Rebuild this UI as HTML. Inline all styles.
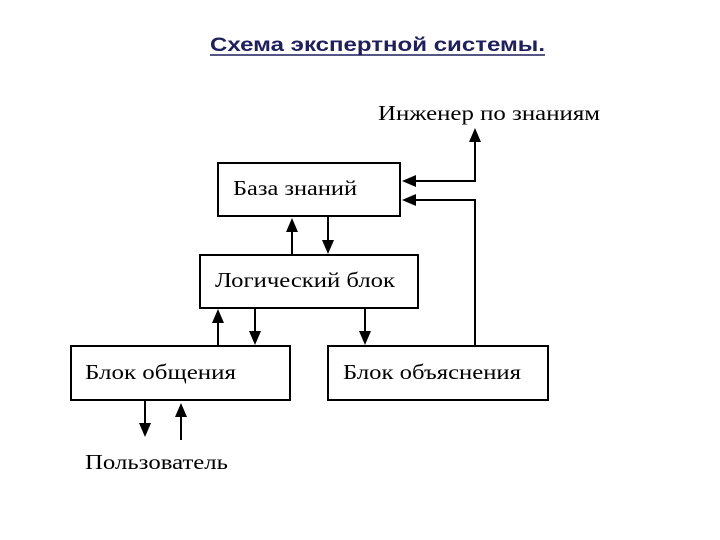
<!DOCTYPE html>
<html><head><meta charset="utf-8"><style>
html,body{margin:0;padding:0;background:#fff;}
svg{display:block;}
.t{font-family:"Liberation Serif","DejaVu Serif",serif;font-size:21px;fill:#000;}
</style></head><body>
<svg width="720" height="540" viewBox="0 0 720 540" xmlns="http://www.w3.org/2000/svg">
<text x="210" y="51" font-family="Liberation Sans, Arial, sans-serif" font-weight="bold" font-size="19" fill="#1f1f5c" textLength="335" lengthAdjust="spacingAndGlyphs">Схема экспертной системы.</text>
<line x1="210" y1="55" x2="545" y2="55" stroke="#1f1f5c" stroke-width="1.5"/>
<g fill="#fff" stroke="#000" stroke-width="2">
<rect x="218" y="163" width="182" height="53"/>
<rect x="200" y="255" width="218" height="53"/>
<rect x="71" y="346" width="219" height="54"/>
<rect x="328" y="346" width="220" height="54"/>
</g>
<text class="t" x="378" y="120" textLength="222" lengthAdjust="spacingAndGlyphs">Инженер по знаниям</text>
<text class="t" x="233" y="195" textLength="124" lengthAdjust="spacingAndGlyphs">База знаний</text>
<text class="t" x="215" y="287" textLength="180" lengthAdjust="spacingAndGlyphs">Логический блок</text>
<text class="t" x="85" y="379" textLength="151" lengthAdjust="spacingAndGlyphs">Блок общения</text>
<text class="t" x="343" y="379" textLength="178" lengthAdjust="spacingAndGlyphs">Блок объяснения</text>
<text class="t" x="85" y="469" textLength="143" lengthAdjust="spacingAndGlyphs">Пользователь</text>
<g stroke="#000" stroke-width="2" fill="none">
<polyline points="475,138 475,181 414,181"/>
<polyline points="475,346 475,200 414,200"/>
<line x1="292" y1="255" x2="292" y2="230"/>
<line x1="328" y1="216" x2="328" y2="243"/>
<line x1="218" y1="346" x2="218" y2="322"/>
<line x1="255" y1="308" x2="255" y2="334"/>
<line x1="365" y1="308" x2="365" y2="334"/>
<line x1="145" y1="400" x2="145" y2="425"/>
<line x1="181" y1="440" x2="181" y2="415"/>
</g>
<g fill="#000">
<polygon points="475,128 469,142 481,142"/>
<polygon points="402,181 416,175 416,187"/>
<polygon points="402,200 416,194 416,206"/>
<polygon points="292,218 286,232 298,232"/>
<polygon points="328,254 322,240 334,240"/>
<polygon points="218,309 212,323 224,323"/>
<polygon points="255,345 249,331 261,331"/>
<polygon points="365,345 359,331 371,331"/>
<polygon points="145,437 139,423 151,423"/>
<polygon points="181,403 175,417 187,417"/>
</g>
</svg>
</body></html>
